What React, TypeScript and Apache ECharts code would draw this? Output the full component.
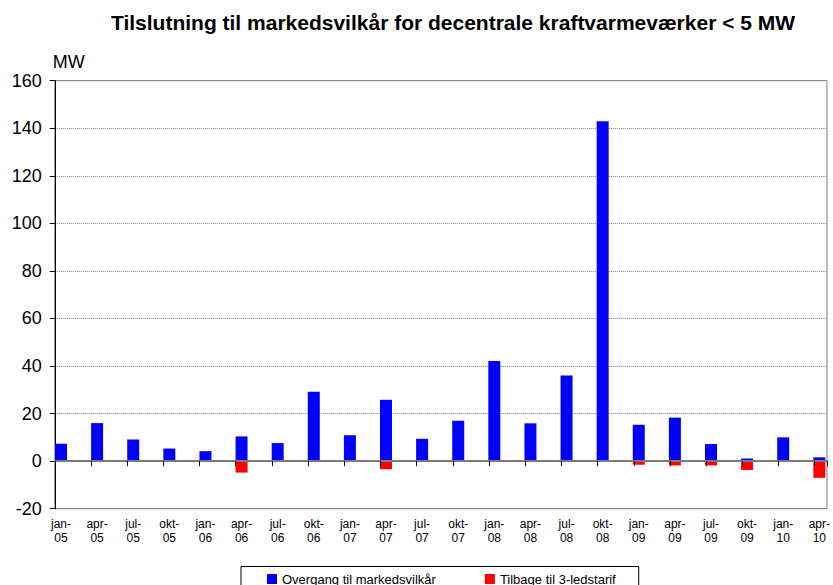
import React, { useEffect, useRef } from "react";
import * as echarts from "echarts";

const categories = [
  "jan-\n05", "apr-\n05", "jul-\n05", "okt-\n05",
  "jan-\n06", "apr-\n06", "jul-\n06", "okt-\n06",
  "jan-\n07", "apr-\n07", "jul-\n07", "okt-\n07",
  "jan-\n08", "apr-\n08", "jul-\n08", "okt-\n08",
  "jan-\n09", "apr-\n09", "jul-\n09", "okt-\n09",
  "jan-\n10", "apr-\n10",
];

const overgang = [7.3, 16.0, 9.1, 5.3, 4.2, 10.4, 7.6, 29.2, 10.9, 25.8, 9.4, 17.0, 42.1, 15.9, 36.0, 142.9, 15.3, 18.3, 7.2, 1.1, 10.0, 1.6];
const tilbage = [0, 0, 0, 0, 0, -4.8, 0, 0, 0, -3.4, 0, 0, 0, 0, 0, 0, -1.5, -1.8, -1.8, -3.7, 0, -7.0];

const yTicks = { min: -20, max: 160, interval: 20 };

const FONT = "'Liberation Sans', Arial, sans-serif";

export default function App() {
  const ref = useRef<HTMLDivElement>(null);
  useEffect(() => {
    document.body.style.margin = "0";
    if (!ref.current) return;
    const chart = echarts.init(ref.current, undefined, { renderer: "svg" });
    chart.setOption({
      animation: false,
      backgroundColor: "#ffffff",
      textStyle: { fontFamily: FONT, color: "#000" },
      title: {
        text: "Tilslutning til markedsvilkår for decentrale kraftvarmeværker < 5 MW",
        left: 448,
        textAlign: "center",
        top: 7,
        textStyle: { fontSize: 21, fontWeight: "bold", color: "#000", fontFamily: FONT },
      },
      legend: {
        left: 241,
        top: 566.5,
        orient: "horizontal",
        itemWidth: 10,
        itemHeight: 10,
        itemGap: 49,
        padding: [6, 23, 12, 26],
        borderColor: "#000",
        borderWidth: 1,
        icon: "rect",
        textStyle: { fontSize: 13, color: "#000", fontFamily: FONT },
        data: ["Overgang til markedsvilkår", "Tilbage til 3-ledstarif"],
      },
      grid: [
        { left: 61, right: 12, top: 80.7, bottom: 76.3, containLabel: false },
        {
          left: 54.8, right: 6, top: 80.7, bottom: 76.3, containLabel: false,
          show: true, borderColor: "#808080", borderWidth: 1, backgroundColor: "transparent",
        },
      ],
      xAxis: [
        {
          type: "category",
          gridIndex: 0,
          data: categories,
          boundaryGap: false,
          axisLine: { show: false },
          axisTick: { show: false },
          axisLabel: {
            interval: 0, fontSize: 12, lineHeight: 14, margin: 8, color: "#000", fontFamily: FONT,
          },
          splitLine: { show: false },
        },
        {
          type: "value",
          gridIndex: 1,
          min: 0,
          max: 21.34,
          interval: 1,
          z: 5,
          axisLine: { show: true, onZero: true, lineStyle: { color: "#7a7a7a", width: 2 } },
          axisTick: { show: true, length: 5, lineStyle: { color: "#000", width: 1 } },
          axisLabel: { show: false },
          splitLine: { show: false },
        },
      ],
      yAxis: [
        {
          type: "value",
          gridIndex: 0,
          min: yTicks.min,
          max: yTicks.max,
          interval: yTicks.interval,
          show: false,
        },
        {
          type: "value",
          gridIndex: 1,
          min: yTicks.min,
          max: yTicks.max,
          interval: yTicks.interval,
          name: "MW",
          nameLocation: "end",
          nameGap: 10,
          nameTextStyle: { align: "left", fontSize: 18, color: "#000", fontFamily: FONT, padding: [0, 0, 0, -2] },
          axisLine: { show: true, lineStyle: { color: "#000", width: 1 } },
          axisTick: { show: true, length: 5, lineStyle: { color: "#000" } },
          axisLabel: { fontSize: 18, color: "#000", margin: 13, fontFamily: FONT },
          splitLine: { show: true, lineStyle: { color: "#808080", type: "dotted", width: 1 } },
        },
      ],
      series: [
        {
          name: "Overgang til markedsvilkår",
          type: "bar",
          xAxisIndex: 0,
          yAxisIndex: 0,
          stack: "total",
          barWidth: 12,
          clip: false,
          itemStyle: { color: "#0000ff" },
          data: overgang,
        },
        {
          name: "Tilbage til 3-ledstarif",
          type: "bar",
          xAxisIndex: 0,
          yAxisIndex: 0,
          stack: "total",
          barWidth: 12,
          clip: false,
          itemStyle: { color: "#ff0000" },
          data: tilbage,
        },
      ],
    });
    return () => chart.dispose();
  }, []);
  return <div ref={ref} style={{ width: 833, height: 585 }} />;
}
